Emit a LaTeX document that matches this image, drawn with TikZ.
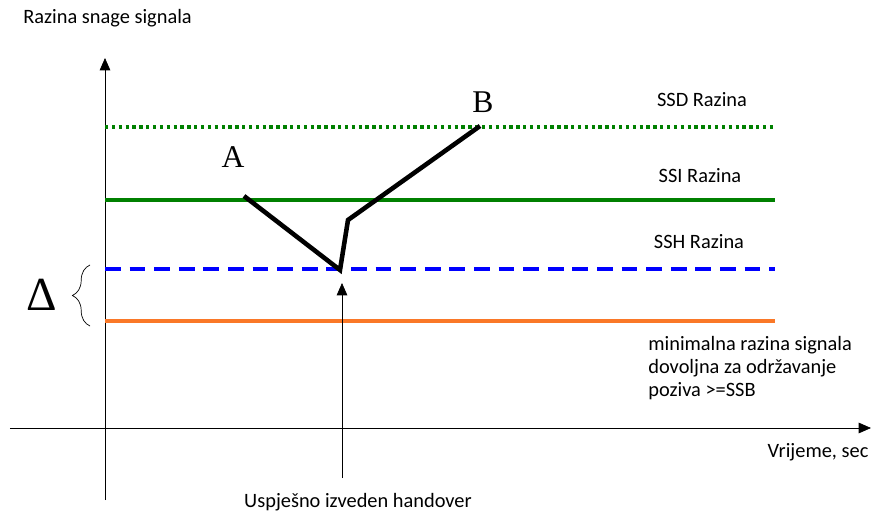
\documentclass[tikz,border=0pt]{standalone}
\usepackage{fontspec}
\setmainfont{Carlito}
\newfontfamily\serif{Liberation Serif}
\usetikzlibrary{arrows.meta,decorations.pathreplacing}
\definecolor{ssdgreen}{RGB}{0,128,0}
\definecolor{sshblue}{RGB}{0,0,255}
\definecolor{minorange}{RGB}{250,120,40}
\tikzset{
  axis/.style={thin,-{Triangle[length=7pt,width=6pt]}},
  level/.style={line width=1.9pt},
  lbl/.style={font=\fontsize{11.6}{14}\selectfont,inner sep=0pt},
  point/.style={font=\serif\fontsize{18}{20}\selectfont,inner sep=0pt}
}
\begin{document}
\begin{tikzpicture}
\useasboundingbox (0,0) rectangle (17.46,10.24);
% axes
\coordinate (ybot) at (2.1,0.24);
\coordinate (ytop) at (2.1,9.08);
\coordinate (xleft) at (0.2,1.68);
\coordinate (xright) at (17.42,1.68);
\draw[axis] (ybot) -- (ytop);
\draw[axis] (xleft) -- (xright);
\node[lbl,anchor=west] (ylabel) at (0.46,9.88) {Razina snage signala};
\node[lbl] (xlabel) at (16.36,1.20) {Vrijeme, sec};

% levels
\draw[level,ssdgreen,dotted] (2.1,7.70) -- (15.46,7.70);
\draw[level,ssdgreen] (2.1,6.24) -- (15.5,6.24);
\draw[level,sshblue,dash pattern=on 9pt off 5pt] (2.1,4.86) -- (15.5,4.86);
\draw[level,minorange] (2.1,3.82) -- (15.5,3.82);
\node[lbl] (ssd) at (14.04,8.24) {SSD Razina};
\node[lbl] (ssi) at (14.0,6.72) {SSI Razina};
\node[lbl] (ssh) at (13.98,5.40) {SSH Razina};
\node[lbl,anchor=north west,align=left] (ssb) at (12.96,3.52)
  {minimalna razina signala\\[-1pt]dovoljna za održavanje\\[-1pt]poziva >=SSB};

% delta
\draw[decorate,decoration={brace,amplitude=10pt},thin] (1.8,3.72) -- (1.8,4.94);
\node[font=\serif\fontsize{27}{30}\selectfont,inner sep=0pt] (delta) at (0.84,4.34) {Δ};

% signal
\coordinate (pa) at (4.88,6.32);
\coordinate (pmin) at (6.8,4.84);
\coordinate (pknee) at (6.96,5.84);
\coordinate (pb) at (9.6,7.72);
\draw[line width=2.6pt] (pa) -- (pmin) -- (pknee) -- (pb);
\node[point] (a) at (4.66,7.10) {A};
\node[point] (b) at (9.66,8.20) {B};

% handover
\coordinate (hbot) at (6.84,0.68);
\coordinate (htop) at (6.84,4.58);
\draw[axis] (hbot) -- (htop);
\node[lbl] (handover) at (7.16,0.20) {Uspješno izveden handover};
\end{tikzpicture}
\end{document}
